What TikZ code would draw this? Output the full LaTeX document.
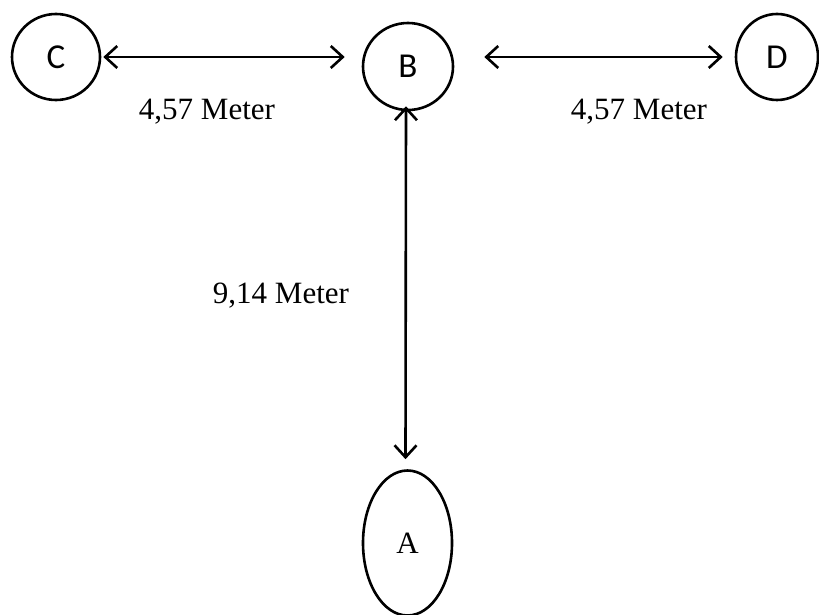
\documentclass[tikz,border=0pt]{standalone}
\usepackage{fontspec}
\setmainfont{Liberation Serif}
\newfontfamily\calfont{Carlito}
\usetikzlibrary{shapes.geometric,arrows.meta}
\begin{document}
\begin{tikzpicture}[x=1pt,y=1pt,
  circ/.style={draw,ellipse,line width=2.6pt,inner sep=0pt},
  sanslbl/.style={font={\calfont\fontsize{35}{40}\selectfont}},
  seriflbl/.style={font={\rmfamily\fontsize{31}{36}\selectfont}},
  conn/.style={line width=2.6pt,{Straight Barb[length=12pt,width=22pt]}-{Straight Barb[length=12pt,width=22pt]}}]
\useasboundingbox (0,0) rectangle (819,-615);
\node[circ,sanslbl,minimum width=88pt,minimum height=86pt] (C) at (56,-57) {C};
\node[circ,sanslbl,minimum width=90pt,minimum height=87pt] (B) at (408,-66.5) {B};
\node[circ,sanslbl,minimum width=82pt,minimum height=86pt] (D) at (777,-57) {D};
\node[circ,seriflbl,minimum width=89pt,minimum height=145pt] (A) at (407.5,-543) {A};
\draw[conn] ([xshift=2pt]C.east) -- ([xshift=-17pt]C.east -| B.west);
\draw[conn] ([xshift=30pt]D.west -| B.east) -- ([xshift=-12pt]D.west);
\draw[conn] ([xshift=-2pt,yshift=5pt]B.south) -- ([xshift=-2pt,yshift=10pt]A.north);
\node[seriflbl,anchor=base] (l1) at (207,-120) {4,57 Meter};
\node[seriflbl,anchor=base] (l2) at (639,-120) {4,57 Meter};
\node[seriflbl,anchor=base] (l3) at (281,-303) {9,14 Meter};
\end{tikzpicture}
\end{document}
